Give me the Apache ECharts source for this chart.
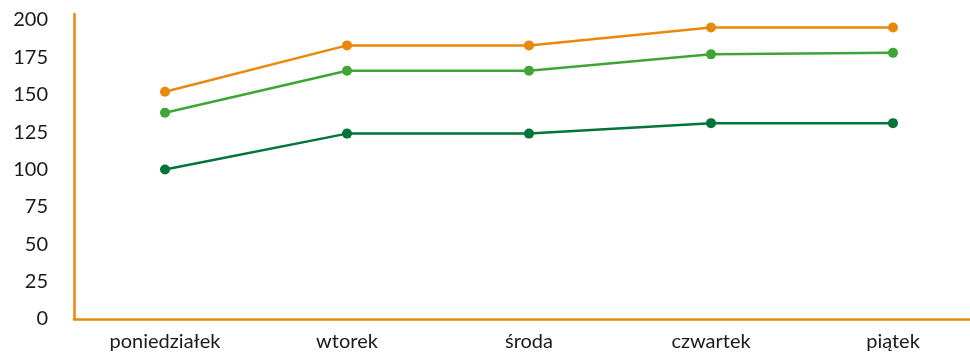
<!DOCTYPE html>
<html>
<head>
<meta charset="utf-8">
<script src="https://cdn.jsdelivr.net/npm/echarts@6/dist/echarts.min.js"></script>
<style>
html,body{margin:0;padding:0;background:#fff;overflow:hidden;}
#c{width:984px;height:353px;}
</style>
</head>
<body>
<div id="c"></div>
<script>
const categories = ['poniedziałek', 'wtorek', 'środa', 'czwartek', 'piątek'];
const seriesOrange = [152, 183, 183, 195, 195];
const seriesLightGreen = [138, 166, 166, 177, 178];
const seriesDarkGreen = [100, 124, 124, 131, 131];
const yTicks = [0, 25, 50, 75, 100, 125, 150, 175, 200];

const FONT = 'Lato';
const chart = echarts.init(document.getElementById('c'), null, {renderer: 'canvas'});
function mk(name, data, color) {
  return {
    name: name, type: 'line', data: data,
    symbol: 'circle', symbolSize: 10,
    lineStyle: {color: color, width: 2.5},
    itemStyle: {color: color},
    animation: false
  };
}
chart.setOption({
  animation: false,
  grid: {left: 74, top: 14, right: 0, height: 305, containLabel: false},
  xAxis: {
    type: 'category', data: categories, boundaryGap: true,
    axisLine: {lineStyle: {color: '#E8890C', width: 2.5}},
    axisTick: {show: false},
    axisLabel: {color: '#1a1a1a', fontFamily: FONT, fontSize: 20, margin: 13}
  },
  yAxis: {
    type: 'value', min: 0, max: 204, interval: 25,
    axisLine: {show: true, lineStyle: {color: '#E8890C', width: 2.5}},
    axisTick: {show: false},
    splitLine: {show: false},
    axisLabel: {
      color: '#1a1a1a', fontFamily: FONT, fontSize: 20, margin: 26,
      showMaxLabel: false,
      formatter: function (v) { return yTicks.indexOf(v) >= 0 ? String(v) : ''; }
    }
  },
  series: [
    mk('A', seriesOrange, '#E8890C'),
    mk('B', seriesLightGreen, '#3FA535'),
    mk('C', seriesDarkGreen, '#00743A')
  ]
});
</script>
</body>
</html>
